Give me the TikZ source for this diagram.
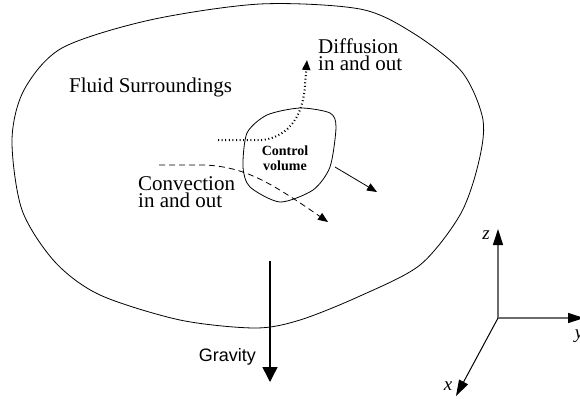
\documentclass[tikz,border=0pt]{standalone}
\usepackage{fontspec}
\setmainfont{Liberation Serif}
\setsansfont{Liberation Sans}
\usetikzlibrary{arrows.meta}
\definecolor{axisgray}{gray}{0.42}

\tikzset{
  flowtip/.style={-{Triangle[length=10pt,width=8pt]}},
  axisline/.style={draw=axisgray, line width=1.3pt, -{Triangle[length=16pt,width=10pt,color=black]}},
  difftrace/.style={line width=2pt, dash pattern=on 1pt off 2.6pt},
  convtrace/.style={line width=0.8pt, dash pattern=on 6pt off 4pt},
  bigtext/.style={inner sep=0pt, align=left, font=\fontsize{21}{17}\selectfont},
}

\begin{document}
\begin{tikzpicture}[x=1pt,y=-1pt]
	\useasboundingbox (0,0) rectangle (580,400);
	
	\draw[line width=0.8pt] plot[smooth cycle] coordinates {
		(12,140) (24,90) (62,48) (150,20) (260,4) (360,9) (413,33) (462,72)
		(483,120) (478,165) (460,215) (420,265) (360,296) (300,320) (255,328)
		(180,320) (100,295) (55,262) (22,210)};
	
	\draw[line width=0.8pt] plot[smooth cycle, tension=0.45] coordinates {
		(300,108) (330,113) (336,127) (330,167) (313,190) (280,202)
		(250,187) (243,167) (247,133) (267,115)};
	
	\node[bigtext, anchor=base west] (fluid) at (69,92) {Fluid Surroundings};
	\node[inner sep=0pt, align=center, font=\fontsize{14}{15}\selectfont\bfseries] (cv) at (285,158) {Control\\volume};
	\node[bigtext, anchor=west] (diff) at (318,55) {Diffusion\\in and out};
	\node[bigtext, anchor=west] (conv) at (138,192) {Convection\\in and out};
	\node[inner sep=0pt, anchor=base east, font=\fontsize{18}{20}\sffamily] (grav) at (256,361) {Gravity};
	
	\coordinate (diffstart) at (218,140);
	\coordinate (diffend) at (307,60);
	\coordinate (convstart) at (159,165);
	\coordinate (convend) at (328,222);
	\coordinate (cvout) at (335,167);
	\coordinate (cvtip) at (377,192);
	\coordinate (gravtop) at (270,261);
	\coordinate (gravtip) at (270,382);
	
	\draw[difftrace, flowtip] (diffstart) -- (263,140) .. controls (290,136) and (303,115) .. (305,85) -- (diffend);
	\draw[convtrace, flowtip] (convstart) -- (205,165) .. controls (245,167) and (270,182) .. (convend);
	\draw[line width=0.8pt, flowtip] (cvout) -- (cvtip);
	\draw[line width=1.5pt, -{Triangle[length=15pt,width=15pt]}] (gravtop) -- (gravtip);
	
	\coordinate (orig) at (498,318);
	\coordinate (ztip) at (498,229);
	\coordinate (ytip) at (584,318);
	\coordinate (xtip) at (456,396);
	\draw[axisline] (orig) -- (ztip);
	\draw[axisline] (orig) -- (ytip);
	\draw[axisline, draw=black, line width=1pt] (orig) -- (xtip);
	\node[font=\fontsize{19}{20}\selectfont\itshape, inner sep=0pt] (zlab) at (486,235) {z};
	\node[font=\fontsize{19}{20}\selectfont\itshape, inner sep=0pt] (xlab) at (448,386) {x};
	\node[font=\fontsize{19}{20}\selectfont\itshape, inner sep=0pt] (ylab) at (579,336) {y};
	
\end{tikzpicture}
\end{document}
